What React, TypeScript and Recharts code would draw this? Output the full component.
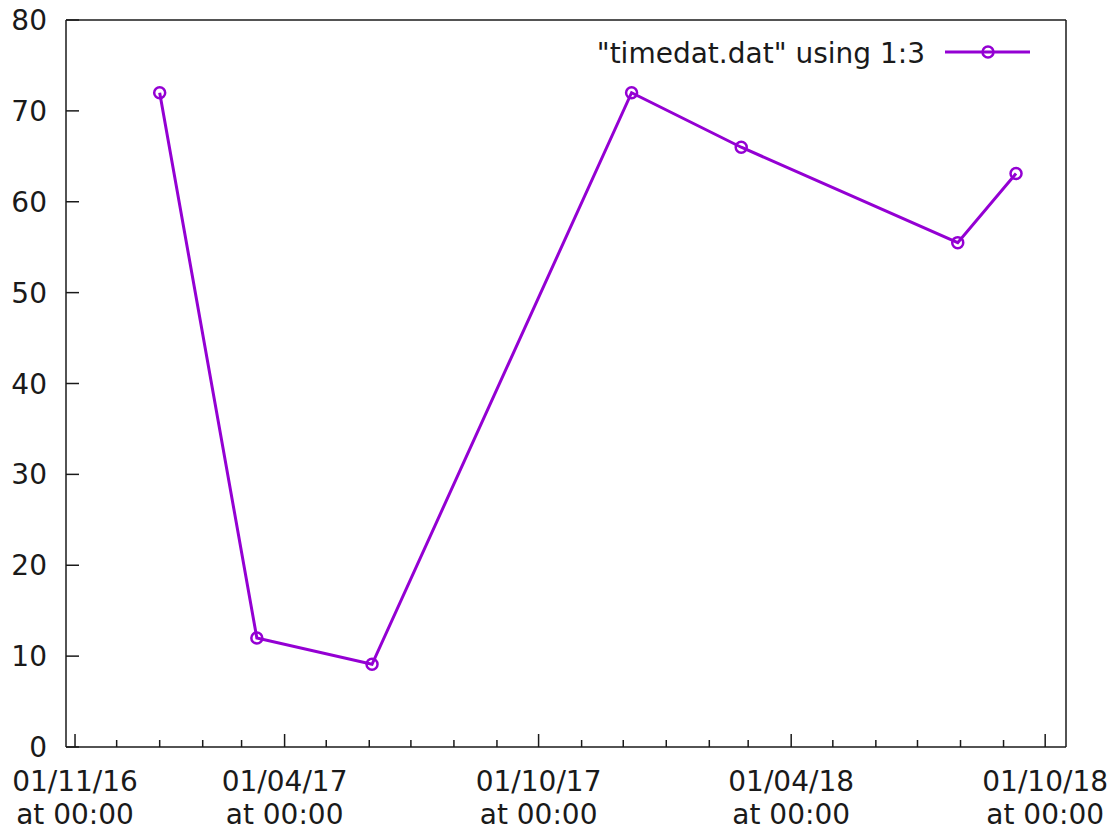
import { LineChart, Line, XAxis, YAxis, Legend } from 'recharts';

const FONT = '"DejaVu Sans", sans-serif';
const PURPLE = '#9400d3';
const INK = '#1a1a1a';
const FS = 28;

const seriesName = '"timedat.dat" using 1:3';
const dates = ['2017-01-01', '2017-03-12', '2017-06-03', '2017-12-07', '2018-02-24', '2018-07-30', '2018-09-10'];
const values = [72, 12, 9.1, 72, 66, 55.5, 63.1];

const majorTicks = ['2016-11-01', '2017-04-01', '2017-10-01', '2018-04-01', '2018-10-01'];
const majorLabels = ['01/11/16', '01/04/17', '01/10/17', '01/04/18', '01/10/18'];
const timeLabel = 'at 00:00';
const minorTicks = [
  '2016-12-01', '2017-01-01', '2017-02-01', '2017-03-01',
  '2017-05-01', '2017-06-01', '2017-07-01', '2017-08-01', '2017-09-01',
  '2017-11-01', '2017-12-01', '2018-01-01', '2018-02-01', '2018-03-01',
  '2018-05-01', '2018-06-01', '2018-07-01', '2018-08-01', '2018-09-01',
];
const xRange = ['2016-10-25T12:00:00Z', '2018-10-16T00:00:00Z'];
const yTicks = [0, 10, 20, 30, 40, 50, 60, 70, 80];

const ms = (d: string) => new Date(d.length === 10 ? d + 'T00:00:00Z' : d).getTime();
const majorMs = majorTicks.map(ms);
const allTicks = [...majorTicks, ...minorTicks].map(ms).sort((a, b) => a - b);
const xDomain = xRange.map(ms);
const data = dates.map((d, i) => ({ t: ms(d), v: values[i] }));

const BottomTick = ({ x, y, payload }: any) => {
  const i = majorMs.indexOf(payload.value);
  const major = i >= 0;
  return (
    <g>
      <line x1={x} y1={y} x2={x} y2={y - (major ? 13 : 7)} stroke={INK} strokeWidth={1.5} />
      {major && (
        <text textAnchor="middle" fill={INK} fontFamily={FONT} fontSize={FS}>
          <tspan x={x} y={y + 44}>{majorLabels[i]}</tspan>
          <tspan x={x} y={y + 77}>{timeLabel}</tspan>
        </text>
      )}
    </g>
  );
};

const TopTick = ({ x, y, payload }: any) => {
  const major = majorMs.includes(payload.value);
  return <line x1={x} y1={y} x2={x} y2={y + (major ? 13 : 7)} stroke={INK} strokeWidth={1.5} />;
};

const LeftTick = ({ x, y, payload }: any) => (
  <g>
    <line x1={x} y1={y} x2={x + 13} y2={y} stroke={INK} strokeWidth={1.5} />
    <text x={x - 19} y={y} dy="0.36em" textAnchor="end" fill={INK} fontFamily={FONT} fontSize={FS}>
      {payload.value}
    </text>
  </g>
);

const RightTick = ({ x, y }: any) => (
  <line x1={x} y1={y} x2={x - 13} y2={y} stroke={INK} strokeWidth={1.5} />
);

const LegendBox = () => (
  <svg width={480} height={40}>
    <text x={365} y={31} textAnchor="end" fill={INK} fontFamily={FONT} fontSize={FS}>
      {seriesName}
    </text>
    <line x1={385} y1={20} x2={470} y2={20} stroke={PURPLE} strokeWidth={3} />
    <circle cx={428} cy={20} r={5.5} fill="none" stroke={PURPLE} strokeWidth={2.5} />
  </svg>
);

export default function App() {
  return (
    <div style={{ position: 'absolute', left: 0, top: 0, width: 1113, height: 831, background: '#fff' }}>
      <LineChart width={1113} height={831} data={data} margin={{ top: 19, right: 46, bottom: 83, left: 65 }}>
        <XAxis
          xAxisId="b"
          dataKey="t"
          type="number"
          domain={xDomain}
          allowDataOverflow
          ticks={allTicks}
          interval={0}
          height={1}
          tickSize={0}
          tickMargin={0}
          tickLine={false}
          axisLine={{ stroke: INK, strokeWidth: 1.5 }}
          tick={<BottomTick />}
        />
        <XAxis
          xAxisId="t"
          orientation="top"
          type="number"
          domain={xDomain}
          allowDataOverflow
          ticks={allTicks}
          interval={0}
          height={1}
          tickSize={0}
          tickMargin={0}
          tickLine={false}
          axisLine={{ stroke: INK, strokeWidth: 1.5 }}
          tick={<TopTick />}
        />
        <YAxis
          yAxisId="l"
          type="number"
          domain={[0, 80]}
          ticks={yTicks}
          interval={0}
          width={1}
          tickSize={0}
          tickMargin={0}
          tickLine={false}
          axisLine={{ stroke: INK, strokeWidth: 1.5 }}
          tick={<LeftTick />}
        />
        <YAxis
          yAxisId="r"
          orientation="right"
          type="number"
          domain={[0, 80]}
          ticks={yTicks}
          interval={0}
          width={1}
          tickSize={0}
          tickMargin={0}
          tickLine={false}
          axisLine={{ stroke: INK, strokeWidth: 1.5 }}
          tick={<RightTick />}
        />
        <Legend
          layout="vertical"
          align="center"
          verticalAlign="middle"
          wrapperStyle={{ position: 'absolute', left: 560, top: 32, width: 480 }}
          content={<LegendBox />}
        />
        <Line
          xAxisId="b"
          yAxisId="l"
          name={seriesName}
          dataKey="v"
          type="linear"
          stroke={PURPLE}
          strokeWidth={3}
          dot={{ r: 5.5, fill: 'none', stroke: PURPLE, strokeWidth: 2.5 }}
          isAnimationActive={false}
        />
      </LineChart>
    </div>
  );
}
